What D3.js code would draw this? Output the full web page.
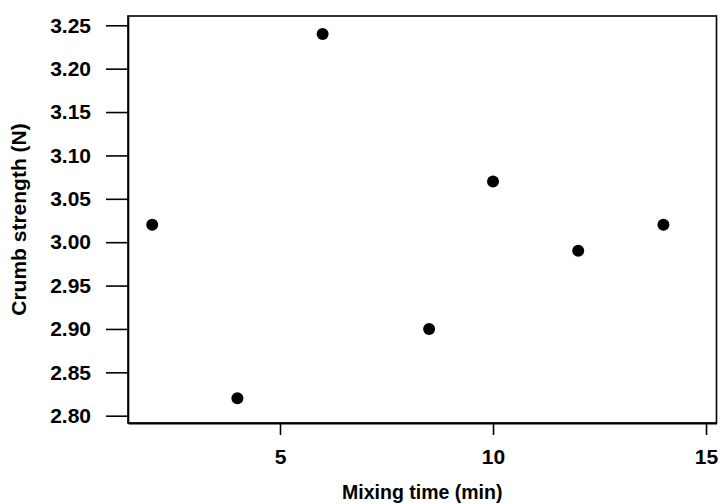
<!DOCTYPE html>
<html>
<head>
<meta charset="utf-8">
<script src="https://cdn.jsdelivr.net/npm/d3@7"></script>
<style>
  html, body { margin: 0; padding: 0; background: #fff; }
  svg { display: block; }
  text { font-family: "Liberation Sans", Arial, sans-serif; fill: #000; }
</style>
</head>
<body>
<svg id="chart" width="720" height="504"></svg>
<script>
// Data
const mixingTime = [2, 4, 6, 8.5, 10, 12, 14];
const crumbStrength = [3.02, 2.82, 3.24, 2.90, 3.07, 2.99, 3.02];
const xTicks = [5, 10, 15];
const yTicks = [2.80, 2.85, 2.90, 2.95, 3.00, 3.05, 3.10, 3.15, 3.20, 3.25];
const xTitle = "Mixing time (min)";
const yTitle = "Crumb strength (N)";

(function () {
const svg = d3.select("#chart");
const mLeft = 128, mRight = 716.5, mTop = 16, mBottom = 423;

const x = d3.scaleLinear().domain([1.432, 15.246]).range([mLeft, mRight]);
const y = d3.scaleLinear().domain([2.7916, 3.2607]).range([mBottom, mTop]);

// frame
svg.append("rect")
  .attr("x", mLeft).attr("y", mTop)
  .attr("width", mRight - mLeft).attr("height", mBottom - mTop)
  .attr("fill", "none").attr("stroke", "#000").attr("stroke-width", 1.6);

// y axis
const yAxis = d3.axisLeft(y).tickValues(yTicks).tickSizeInner(22).tickSizeOuter(0)
  .tickPadding(15).tickFormat(d3.format(".2f"));
const gy = svg.append("g").attr("transform", `translate(${mLeft},0)`).call(yAxis);
gy.select(".domain").attr("stroke-width", 1.6);
gy.selectAll(".tick line").attr("stroke-width", 1.6);
gy.selectAll(".tick text")
  .attr("font-size", 21).attr("font-weight", "bold")
  .style("font-family", "'Liberation Sans', Arial, sans-serif");

// x axis
const xAxis = d3.axisBottom(x).tickValues(xTicks).tickSizeInner(12).tickSizeOuter(0)
  .tickPadding(14).tickFormat(d3.format("d"));
const gx = svg.append("g").attr("transform", `translate(0,${mBottom})`).call(xAxis);
gx.select(".domain").attr("stroke-width", 2);
gx.selectAll(".tick line").attr("stroke-width", 1.6);
gx.selectAll(".tick text")
  .attr("font-size", 21).attr("font-weight", "bold")
  .style("font-family", "'Liberation Sans', Arial, sans-serif");

// points
svg.append("g").selectAll("circle")
  .data(mixingTime.map((t, i) => ({ t, s: crumbStrength[i] })))
  .join("circle")
  .attr("cx", d => x(d.t))
  .attr("cy", d => y(d.s))
  .attr("r", 6)
  .attr("fill", "#000");

// titles
svg.append("text")
  .attr("x", (mLeft + mRight) / 2).attr("y", 499)
  .attr("text-anchor", "middle")
  .attr("font-size", 19.5).attr("font-weight", "bold")
  .text(xTitle);

svg.append("text")
  .attr("transform", `translate(26,${(mTop + mBottom) / 2}) rotate(-90)`)
  .attr("text-anchor", "middle")
  .attr("font-size", 21).attr("font-weight", "bold")
  .text(yTitle);
})();
</script>
</body>
</html>
